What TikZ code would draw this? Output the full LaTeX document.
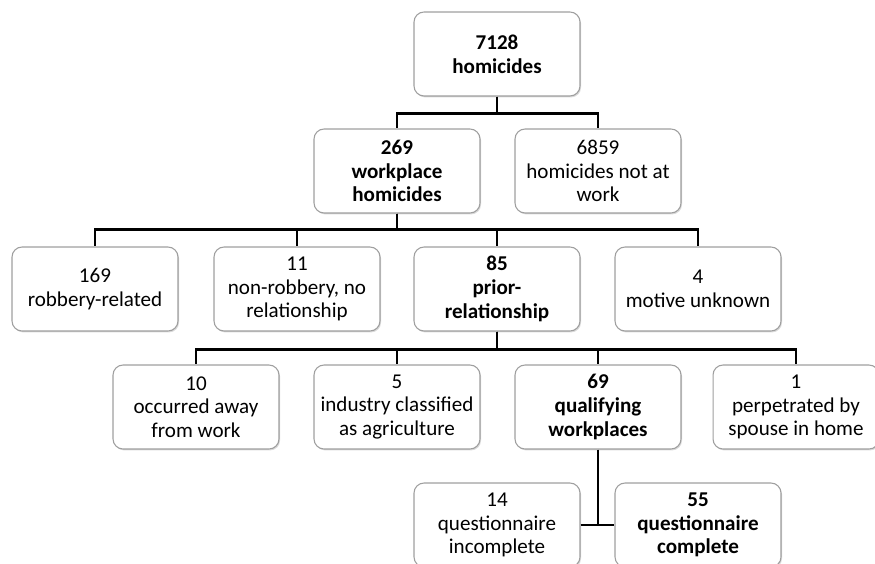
\documentclass[tikz,border=0pt]{standalone}
\usepackage{fontspec}
\setmainfont{Carlito}
\usetikzlibrary{shadows}
\tikzset{
	box/.style={draw=gray!75, line width=0.6pt, rounded corners=0.2cm, fill=white,
		minimum width=3.32cm, minimum height=1.68cm, align=center, inner sep=1pt,
		font=\fontsize{12}{13.5}\selectfont,
		drop shadow={opacity=0.3, shadow xshift=0.6pt, shadow yshift=-0.8pt}},
	boldbox/.style={box, font=\fontsize{12}{13.5}\selectfont\bfseries},
	link/.style={draw=black, line width=1.4pt}
}
\begin{document}
\begin{tikzpicture}[x=0.02cm, y=-0.02cm]
	\useasboundingbox (0,0) rectangle (875,564);
	%level 1
	\node[boldbox] (total) at (497,54) {7128\\homicides};
	%level 2
	\node[boldbox] (work) at (397,171) {269\\workplace\\homicides};
	\node[box] (notwork) at (598,171) {6859\\homicides not at\\work};
	%level 3
	\node[box] (robbery) at (95,289) {169\\robbery-related};
	\node[box] (norel) at (297,289) {11\\non-robbery, no\\relationship};
	\node[boldbox] (prior) at (497,289) {85\\prior-\\relationship};
	\node[box] (unknown) at (698,289) {4\\motive unknown};
	%level 4
	\node[box] (away) at (196,407) {10\\occurred away\\from work};
	\node[box] (agri) at (397,407) {5\\industry classified\\as agriculture};
	\node[boldbox] (qualify) at (598,407) {69\\qualifying\\workplaces};
	\node[box] (spouse) at (796,407) {1\\perpetrated by\\spouse in home};
	%level 5
	\node[box] (incomplete) at (497,525) {14\\questionnaire\\incomplete};
	\node[boldbox] (complete) at (698,525) {55\\questionnaire\\complete};
	%links
	\foreach \child in {work,notwork}
	\draw[link] (total.south) -- ++(0,17) -| (\child.north);
	\foreach \child in {robbery,norel,prior,unknown}
	\draw[link] (work.south) -- ++(0,16) -| (\child.north);
	\foreach \child in {away,agri,qualify,spouse}
	\draw[link] (prior.south) -- ++(0,18) -| (\child.north);
	\draw[link] (qualify.south) -- (qualify.south |- incomplete.east);
	\draw[link] (incomplete.east) -- (complete.west);
\end{tikzpicture}
\end{document}
